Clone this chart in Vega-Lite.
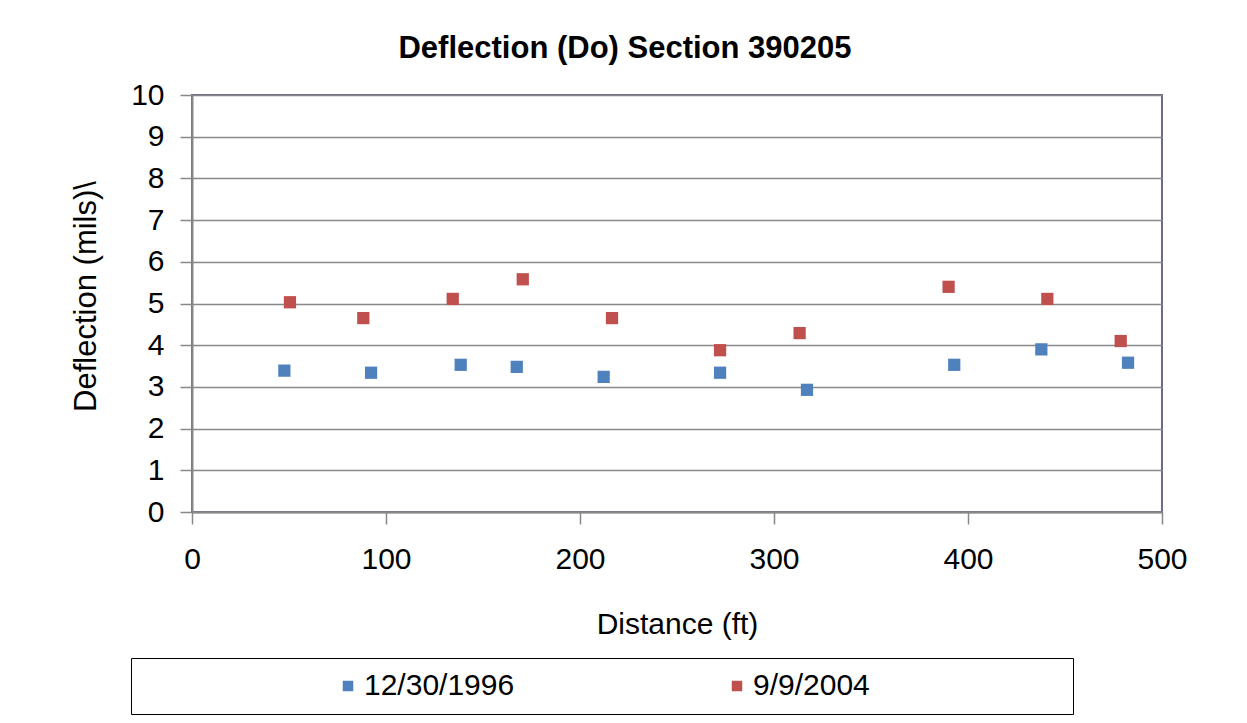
{
  "$schema": "https://vega.github.io/schema/vega-lite/v6.json",
  "width": 970,
  "height": 417,
  "autosize": {"type": "none"},
  "padding": {"left": 192, "top": 95, "right": 85, "bottom": 211},
  "background": "white",
  "config": {
    "font": "Liberation Sans",
    "view": {"stroke": "#6E6A8E", "strokeWidth": 2}
  },
  "title": {
    "text": "Deflection (Do) Section 390205",
    "font": "Liberation Sans",
    "fontSize": 31,
    "fontWeight": "bold",
    "color": "black",
    "anchor": "middle",
    "dx": -52,
    "baseline": "alphabetic",
    "offset": -9
  },
  "data": {
    "values": [
      {"distance": 47.6, "deflection": 3.39, "date": "12/30/1996"},
      {"distance": 92.3, "deflection": 3.34, "date": "12/30/1996"},
      {"distance": 138.5, "deflection": 3.53, "date": "12/30/1996"},
      {"distance": 167.4, "deflection": 3.48, "date": "12/30/1996"},
      {"distance": 212.2, "deflection": 3.24, "date": "12/30/1996"},
      {"distance": 272.2, "deflection": 3.34, "date": "12/30/1996"},
      {"distance": 317.0, "deflection": 2.93, "date": "12/30/1996"},
      {"distance": 392.9, "deflection": 3.53, "date": "12/30/1996"},
      {"distance": 437.8, "deflection": 3.90, "date": "12/30/1996"},
      {"distance": 482.5, "deflection": 3.58, "date": "12/30/1996"},
      {"distance": 50.5, "deflection": 5.03, "date": "9/9/2004"},
      {"distance": 88.3, "deflection": 4.65, "date": "9/9/2004"},
      {"distance": 134.4, "deflection": 5.11, "date": "9/9/2004"},
      {"distance": 170.5, "deflection": 5.58, "date": "9/9/2004"},
      {"distance": 216.5, "deflection": 4.65, "date": "9/9/2004"},
      {"distance": 272.2, "deflection": 3.88, "date": "9/9/2004"},
      {"distance": 313.2, "deflection": 4.29, "date": "9/9/2004"},
      {"distance": 390.0, "deflection": 5.40, "date": "9/9/2004"},
      {"distance": 440.9, "deflection": 5.11, "date": "9/9/2004"},
      {"distance": 478.7, "deflection": 4.10, "date": "9/9/2004"}
    ]
  },
  "mark": {"type": "square", "size": 150, "opacity": 1, "filled": true},
  "encoding": {
    "x": {
      "field": "distance",
      "type": "quantitative",
      "scale": {"domain": [0, 500], "nice": false},
      "axis": {
        "values": [0, 100, 200, 300, 400, 500],
        "grid": false,
        "labelFlush": false,
        "domainColor": "#888888",
        "domainWidth": 2,
        "tickColor": "#888888",
        "tickWidth": 1.5,
        "tickSize": 12,
        "labelFontSize": 30,
        "labelColor": "black",
        "labelPadding": 20,
        "labelFont": "Liberation Sans",
        "title": "Distance (ft)",
        "titleFont": "Liberation Sans",
        "titleFontSize": 30,
        "titleFontWeight": "normal",
        "titleColor": "black",
        "titleBaseline": "alphabetic",
        "titleY": 121
      }
    },
    "y": {
      "field": "deflection",
      "type": "quantitative",
      "scale": {"domain": [0, 10], "nice": false},
      "axis": {
        "values": [0, 1, 2, 3, 4, 5, 6, 7, 8, 9, 10],
        "grid": true,
        "labelFlush": false,
        "gridColor": "#888888",
        "gridWidth": 1.5,
        "domainColor": "#888888",
        "domainWidth": 2,
        "tickColor": "#888888",
        "tickWidth": 1.5,
        "tickSize": 12,
        "labelFontSize": 30,
        "labelColor": "black",
        "labelPadding": 16,
        "labelFont": "Liberation Sans",
        "title": "Deflection (mils)\\",
        "titleFont": "Liberation Sans",
        "titleFontSize": 31,
        "titleFontWeight": "normal",
        "titleColor": "black",
        "titleAngle": -90,
        "titleAlign": "center",
        "titleBaseline": "alphabetic",
        "titleX": -97,
        "titleY": 201
      }
    },
    "color": {
      "field": "date",
      "type": "nominal",
      "scale": {"domain": ["12/30/1996", "9/9/2004"], "range": ["#4F81BD", "#C0504D"]},
      "legend": {
        "orient": "none",
        "legendX": -61,
        "legendY": 563,
        "direction": "horizontal",
        "columns": 2,
        "gridAlign": "all",
        "strokeColor": "black",
        "fillColor": "white",
        "padding": 13,
        "symbolType": "square",
        "symbolSize": 110,
        "symbolOffset": 189,
        "symbolStrokeWidth": 0,
        "labelFontSize": 30,
        "labelFont": "Liberation Sans",
        "labelColor": "black",
        "labelOffset": 1,
        "columnPadding": 18,
        "title": " ",
        "titleOrient": "right",
        "titlePadding": 190,
        "titleFontSize": 30,
        "encode": {"legend": {"update": {"strokeWidth": {"value": 2}}}}
      }
    }
  }
}
